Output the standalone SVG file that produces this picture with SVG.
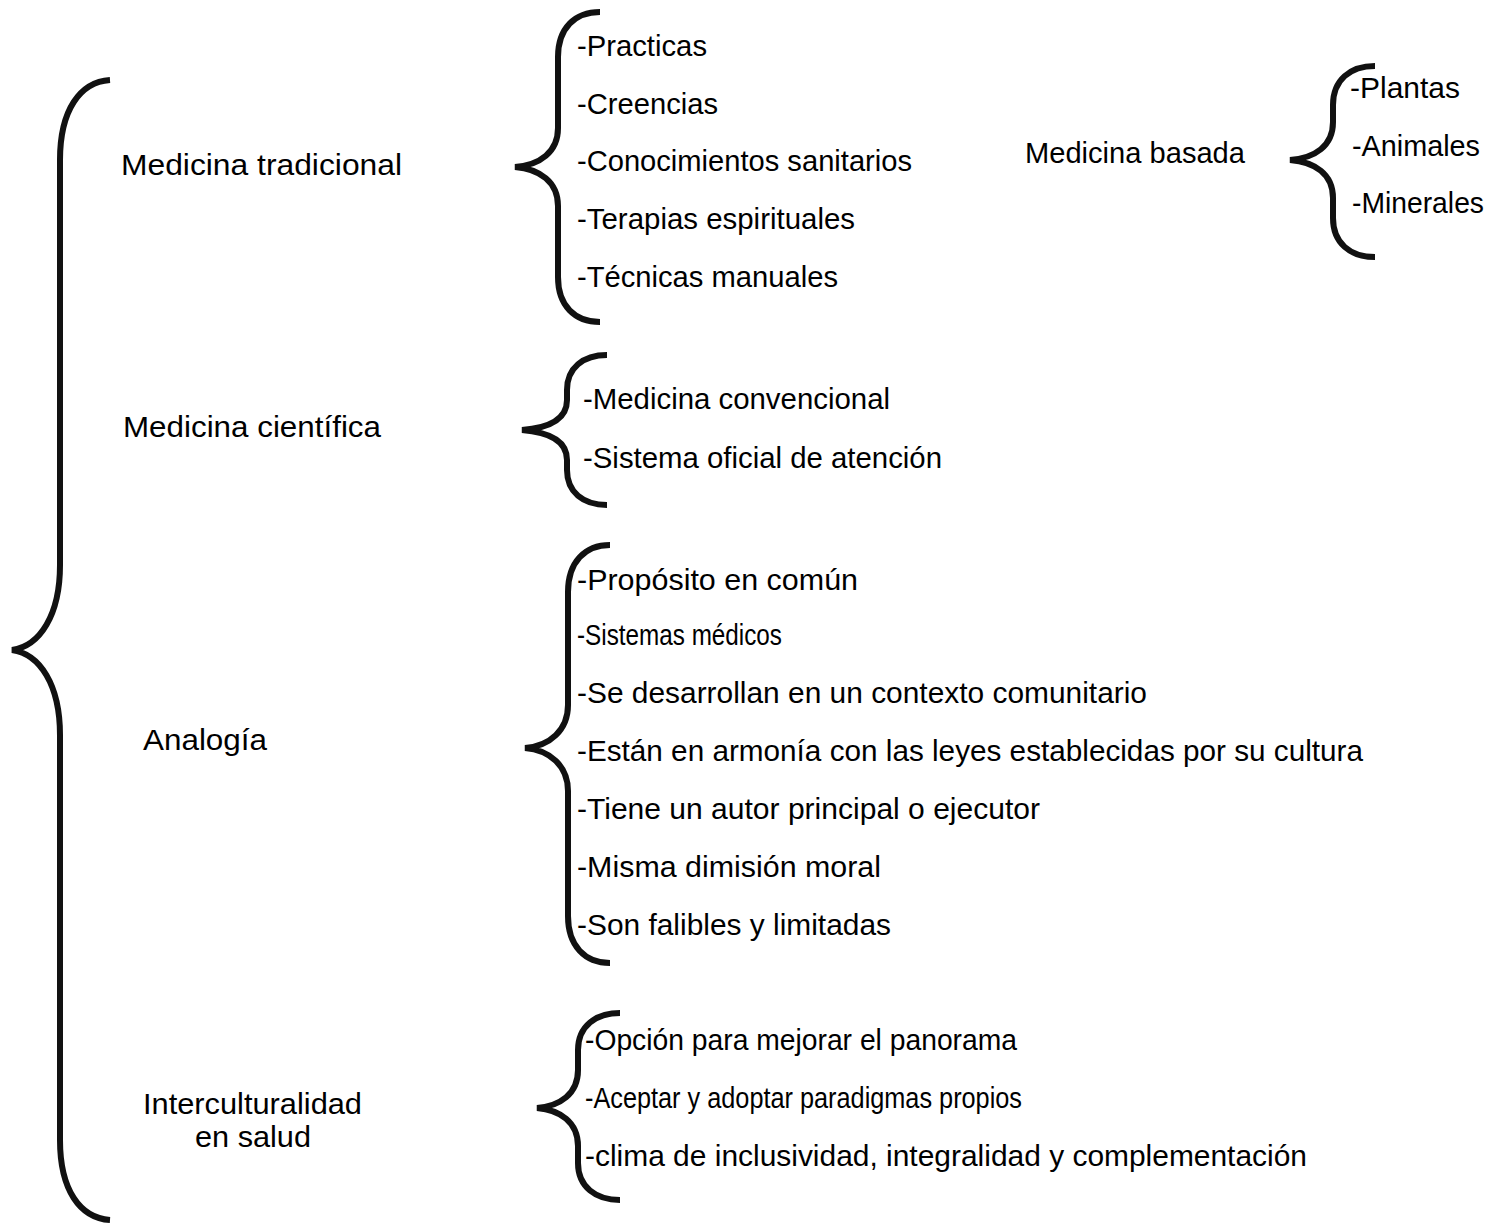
<svg xmlns="http://www.w3.org/2000/svg" width="1490" height="1225" viewBox="0 0 1490 1225">
<style>
.b{fill:none;stroke:#111;stroke-width:6;stroke-linejoin:miter;stroke-linecap:butt}
text{font-family:"Liberation Sans",Arial,sans-serif;font-size:30px;fill:#000}
</style>
<rect width="1490" height="1225" fill="#fff"/>
<g id="connectors">
<path class="b" d="M110,80 C80,82 60,110 60,160 L60,565 C60,615 40,646 12,650 C40,654 60,685 60,735 L60,1140 C60,1190 80,1218 110,1220"/>
<path class="b" d="M600,12 C575,12 558,28 558,57 L558,128 C558,152 540,165 515,167 C540,169 558,182 558,206 L558,277 C558,306 575,322 600,322"/>
<path class="b" d="M607,355 C583,355 567,368 567,390 L567,400 C567,420 548,428 522,430 C548,432 567,440 567,460 L567,470 C567,492 583,505 607,505"/>
<path class="b" d="M610,545 C585,545 568,562 568,592 L568,705 C568,730 550,746 525,748 C550,750 568,766 568,791 L568,916 C568,946 585,963 610,963"/>
<path class="b" d="M620,1013 C596,1013 578,1026 578,1050 L578,1070 C578,1094 560,1106 537,1108 C560,1110 578,1122 578,1146 L578,1163 C578,1187 596,1200 620,1200"/>
<path class="b" d="M1375,66 C1350,66 1333,80 1333,105 L1333,122 C1333,146 1315,158 1290,160 C1315,162 1333,174 1333,198 L1333,218 C1333,243 1350,257 1375,257"/>
</g>
<g id="medicina-tradicional">
<text x="121" y="175" textLength="281" lengthAdjust="spacingAndGlyphs">Medicina tradicional</text>
</g>
<g id="tradicional-items">
<text x="577" y="56" textLength="130" lengthAdjust="spacingAndGlyphs">-Practicas</text>
<text x="577" y="114" textLength="141" lengthAdjust="spacingAndGlyphs">-Creencias</text>
<text x="577" y="171" textLength="335" lengthAdjust="spacingAndGlyphs">-Conocimientos sanitarios</text>
<text x="577" y="229" textLength="278" lengthAdjust="spacingAndGlyphs">-Terapias espirituales</text>
<text x="577" y="287" textLength="261" lengthAdjust="spacingAndGlyphs">-Técnicas manuales</text>
</g>
<g id="medicina-basada">
<text x="1025" y="163" textLength="220" lengthAdjust="spacingAndGlyphs">Medicina basada</text>
</g>
<g id="basada-items">
<text x="1350" y="98" textLength="110" lengthAdjust="spacingAndGlyphs">-Plantas</text>
<text x="1352" y="156" textLength="128" lengthAdjust="spacingAndGlyphs">-Animales</text>
<text x="1352" y="213" textLength="132" lengthAdjust="spacingAndGlyphs">-Minerales</text>
</g>
<g id="medicina-cientifica">
<text x="123" y="437" textLength="258" lengthAdjust="spacingAndGlyphs">Medicina científica</text>
</g>
<g id="cientifica-items">
<text x="583" y="409" textLength="307" lengthAdjust="spacingAndGlyphs">-Medicina convencional</text>
<text x="583" y="468" textLength="359" lengthAdjust="spacingAndGlyphs">-Sistema oficial de atención</text>
</g>
<g id="analogia">
<text x="143" y="750" textLength="124" lengthAdjust="spacingAndGlyphs">Analogía</text>
</g>
<g id="analogia-items">
<text x="577" y="590" textLength="281" lengthAdjust="spacingAndGlyphs">-Propósito en común</text>
<text x="577" y="645" textLength="205" lengthAdjust="spacingAndGlyphs">-Sistemas médicos</text>
<text x="577" y="703" textLength="570" lengthAdjust="spacingAndGlyphs">-Se desarrollan en un contexto comunitario</text>
<text x="577" y="761" textLength="786" lengthAdjust="spacingAndGlyphs">-Están en armonía con las leyes establecidas por su cultura</text>
<text x="577" y="819" textLength="463" lengthAdjust="spacingAndGlyphs">-Tiene un autor principal o ejecutor</text>
<text x="577" y="877" textLength="304" lengthAdjust="spacingAndGlyphs">-Misma dimisión moral</text>
<text x="577" y="935" textLength="314" lengthAdjust="spacingAndGlyphs">-Son falibles y limitadas</text>
</g>
<g id="interculturalidad">
<text x="143" y="1114" textLength="219" lengthAdjust="spacingAndGlyphs">Interculturalidad</text>
<text x="195" y="1147" textLength="116" lengthAdjust="spacingAndGlyphs">en salud</text>
</g>
<g id="interculturalidad-items">
<text x="585" y="1050" textLength="432" lengthAdjust="spacingAndGlyphs">-Opción para mejorar el panorama</text>
<text x="585" y="1108" textLength="437" lengthAdjust="spacingAndGlyphs">-Aceptar y adoptar paradigmas propios</text>
<text x="585" y="1166" textLength="722" lengthAdjust="spacingAndGlyphs">-clima de inclusividad, integralidad y complementación</text>
</g>
</svg>
